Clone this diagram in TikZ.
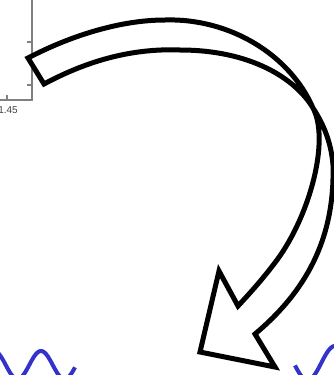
\documentclass[tikz,border=0pt]{standalone}
\usepackage{fontspec}
\setmainfont{Liberation Sans}
\definecolor{wave}{RGB}{51,51,204}
\definecolor{axisgray}{RGB}{128,128,128}
\tikzset{
  bigarrow/.style={draw=black, line width=5pt, fill=white, line join=miter, miter limit=10},
  axisline/.style={draw=axisgray, line width=1.2pt},
  wavecurve/.style={draw=wave, line width=4pt},
  ticklabel/.style={font=\fontsize{10}{12}\selectfont, text=black!75, inner sep=0pt, anchor=base}
}
\begin{document}
\begin{tikzpicture}[x=1pt,y=-1pt]
\useasboundingbox (0,0) rectangle (334,375);
% axis fragment
\draw[axisline] (32,-2) -- (32,100) -- (-2,100);
\draw[axisline] (32,42) -- (27,42);
\draw[axisline] (32,85) -- (27,85);
\draw[axisline] (7,100) -- (7,95);
\node[ticklabel] (xlabel) at (8,113.5) {1.45};
% waves
\draw[wavecurve] plot[domain=-15:75, samples=120, smooth] (\x, {351+14*(1-cos(7.6596*(\x-41)))});
\draw[wavecurve] plot[domain=295:350, samples=80, smooth] (\x, {346+17*(1-cos(6.5455*(\x-335)))});
% curved twisted arrow
\draw[bigarrow] (28,58) .. controls (70,36) and (120,20) .. (165,20)
  .. controls (230,18) and (290,55) .. (313,108)
  .. controls (330,140) and (310,215) .. (277,260)
  .. controls (262,280) and (250,293) .. (238,306)
  -- (219,271) -- (200,352) -- (275,367) -- (255,334)
  .. controls (305,292) and (335,240) .. (333,165)
  .. controls (331,140) and (322,122) .. (313,108)
  .. controls (295,78) and (250,50) .. (180,50)
  .. controls (130,48) and (85,62) .. (44,84) -- cycle;
\end{tikzpicture}
\end{document}
